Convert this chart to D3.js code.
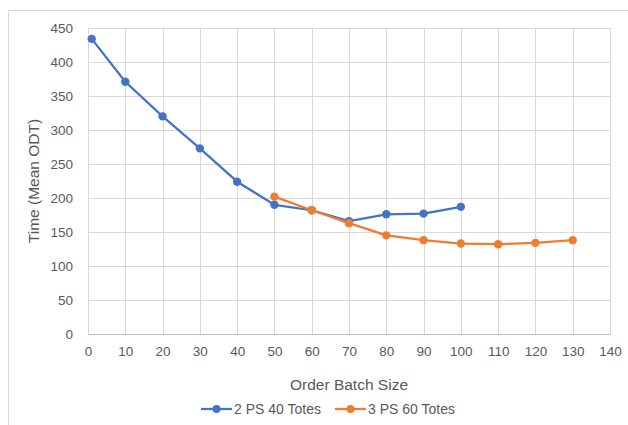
<!DOCTYPE html>
<html>
<head>
<meta charset="utf-8">
<script src="https://cdn.jsdelivr.net/npm/d3@7"></script>
<style>
  body { margin: 0; background: #fff; }
  text { font-family: "Liberation Sans", "DejaVu Sans", sans-serif; fill: #595959; }
</style>
</head>
<body>
<div id="chart"></div>
<script>
// data
const seriesNames = ['2 PS 40 Totes', '3 PS 60 Totes'];
const blueX = [1, 10, 20, 30, 40, 50, 60, 70, 80, 90, 100];
const blueY = [434, 371, 320, 273, 224, 190, 182, 166, 176, 177, 187];
const orangeX = [50, 60, 70, 80, 90, 100, 110, 120, 130];
const orangeY = [202, 182, 163, 145, 138, 133, 132, 134, 138];
const xTicks = [0, 10, 20, 30, 40, 50, 60, 70, 80, 90, 100, 110, 120, 130, 140];
const yTicks = [0, 50, 100, 150, 200, 250, 300, 350, 400, 450];
const colors = ['#4472C4', '#ED7D31'];

const width = 628;
const height = 425;
const plot = { left: 88, right: 610, top: 28, bottom: 334 };

const svg = d3.select('#chart').append('svg')
  .attr('width', width)
  .attr('height', height);

// chart frame
svg.append('rect')
  .attr('x', 8.5).attr('y', 10.5)
  .attr('width', 640).attr('height', 440)
  .attr('fill', 'none')
  .attr('stroke', '#d9d9d9');

/* Scale */
const xScale = d3.scaleLinear().domain([0, 140]).range([plot.left, plot.right]);
const yScale = d3.scaleLinear().domain([0, 450]).range([plot.bottom, plot.top]);

// grid
const grid = svg.append('g').attr('class', 'grid');
grid.selectAll('.hline')
  .data(yTicks).enter()
  .append('line')
  .attr('x1', plot.left).attr('x2', plot.right)
  .attr('y1', d => Math.round(yScale(d)) + 0.5)
  .attr('y2', d => Math.round(yScale(d)) + 0.5)
  .attr('stroke', '#d9d9d9')
  .attr('stroke-width', 1);
grid.selectAll('.vline')
  .data(xTicks).enter()
  .append('line')
  .attr('y1', plot.top).attr('y2', plot.bottom)
  .attr('x1', d => Math.round(xScale(d)) + 0.5)
  .attr('x2', d => Math.round(xScale(d)) + 0.5)
  .attr('stroke', '#d9d9d9')
  .attr('stroke-width', 1);

/* Axis */
const xAxis = d3.axisBottom(xScale).tickValues(xTicks).tickSize(0).tickPadding(12);
const yAxis = d3.axisLeft(yScale).tickValues(yTicks).tickSize(0).tickPadding(15);

const gx = svg.append('g')
  .attr('transform', `translate(0, ${plot.bottom})`)
  .call(xAxis);
gx.select('.domain').attr('stroke', '#bfbfbf');
gx.selectAll('text').style('font-size', '13.5px').attr('fill', '#595959');

const gy = svg.append('g')
  .attr('transform', `translate(${plot.left}, 0)`)
  .call(yAxis);
gy.select('.domain').remove();
gy.selectAll('text').style('font-size', '13.5px').attr('fill', '#595959');

// axis titles
svg.append('text')
  .attr('x', (plot.left + plot.right) / 2)
  .attr('y', 390)
  .attr('text-anchor', 'middle')
  .style('font-size', '15.5px')
  .text('Order Batch Size');

svg.append('text')
  .attr('transform', `translate(39, ${(plot.top + plot.bottom) / 2}) rotate(-90)`)
  .attr('text-anchor', 'middle')
  .style('font-size', '15.5px')
  .text('Time (Mean ODT)');

/* Lines */
const series = [
  { name: seriesNames[0], values: blueX.map((x, i) => ({ x: x, y: blueY[i] })) },
  { name: seriesNames[1], values: orangeX.map((x, i) => ({ x: x, y: orangeY[i] })) }
];

const line = d3.line()
  .x(d => xScale(d.x))
  .y(d => yScale(d.y));

const lines = svg.append('g').attr('class', 'lines');
series.forEach((s, i) => {
  const g = lines.append('g');
  g.append('path')
    .attr('d', line(s.values))
    .attr('fill', 'none')
    .attr('stroke', colors[i])
    .attr('stroke-width', 2.25)
    .attr('stroke-linejoin', 'round');
  g.selectAll('circle')
    .data(s.values).enter()
    .append('circle')
    .attr('cx', d => xScale(d.x))
    .attr('cy', d => yScale(d.y))
    .attr('r', 4.2)
    .attr('fill', colors[i]);
});

// legend
const legend = svg.append('g').attr('transform', 'translate(0, 409)');
const legendX = [201, 335];
seriesNames.forEach((name, i) => {
  const lg = legend.append('g').attr('transform', `translate(${legendX[i]}, 0)`);
  lg.append('line')
    .attr('x1', 0).attr('x2', 31)
    .attr('y1', 0).attr('y2', 0)
    .attr('stroke', colors[i])
    .attr('stroke-width', 2.25);
  lg.append('circle')
    .attr('cx', 15.5).attr('cy', 0).attr('r', 4)
    .attr('fill', colors[i]);
  lg.append('text')
    .attr('x', 33).attr('y', 5)
    .style('font-size', '14px')
    .text(name);
});
</script>
</body>
</html>
